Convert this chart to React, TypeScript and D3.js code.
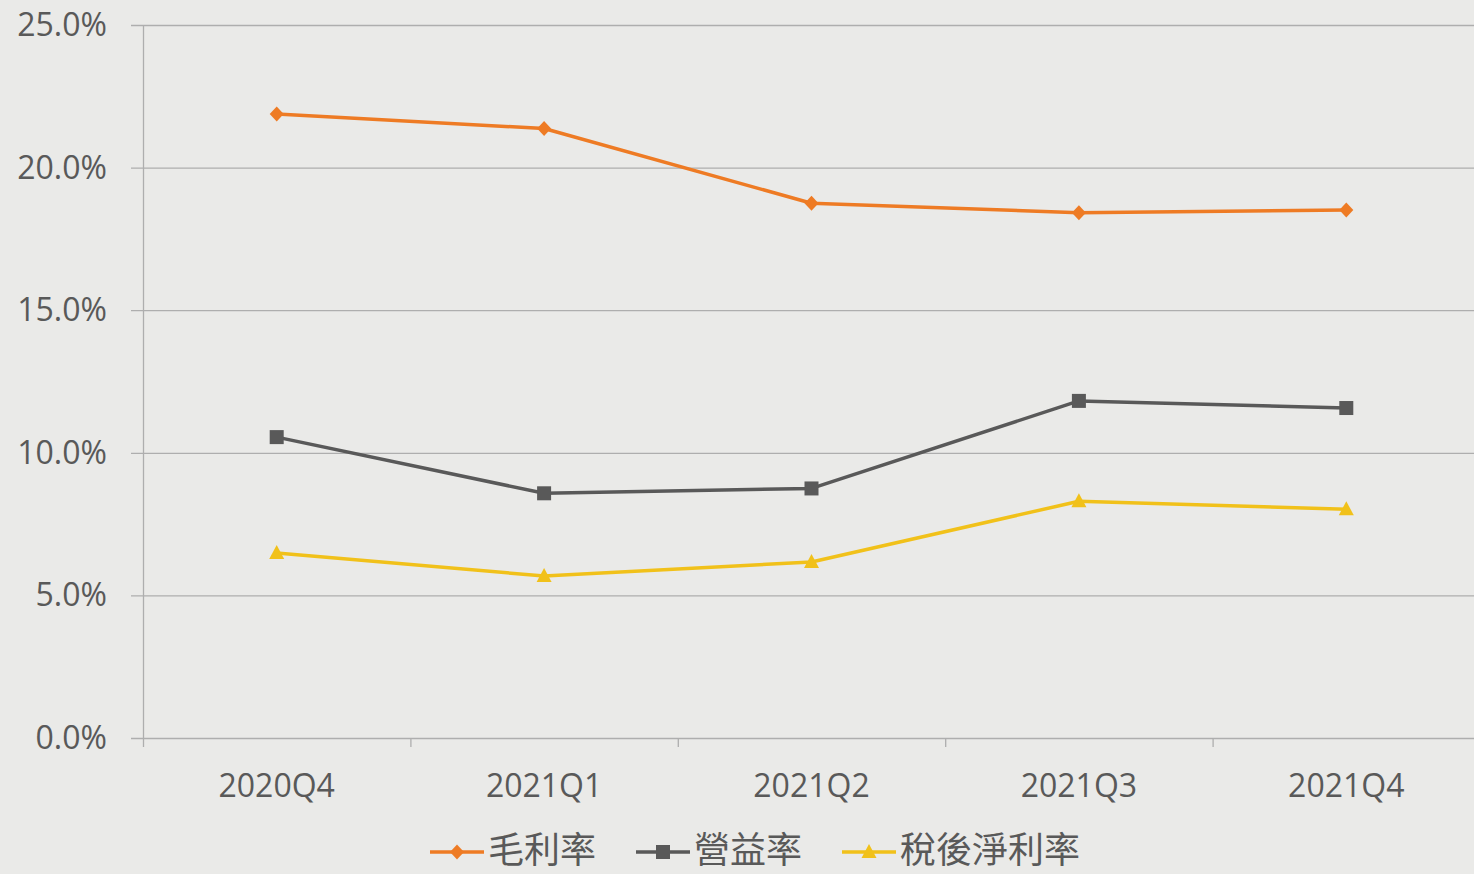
import React, { useEffect, useRef } from 'react';
import * as d3 from 'd3';

const categories = ['2020Q4', '2021Q1', '2021Q2', '2021Q3', '2021Q4'];
const grossMargin = [21.88, 21.37, 18.75, 18.42, 18.51];
const operatingMargin = [10.55, 8.58, 8.75, 11.82, 11.57];
const netMargin = [6.49, 5.68, 6.17, 8.30, 8.02];
const yTicks = [0, 5, 10, 15, 20, 25];
const seriesNames = ['毛利率', '營益率', '稅後淨利率'];
const seriesColors = ['#EE7B24', '#595959', '#F1C11A'];
const seriesShapes = ['diamond', 'square', 'triangle'];

const W = 1474;
const H = 874;

const App = () => {
  const ref = useRef<SVGSVGElement>(null);

  useEffect(() => {
    document.body.style.margin = '0';
    const svg = d3.select(ref.current);
    svg.selectAll('*').remove();

    const x = d3.scaleBand().domain(categories).range([143, 1480]);
    const y = d3.scaleLinear().domain([0, 25]).range([738, 25]);
    const font = '"Open Sans", sans-serif';

    svg.append('rect').attr('width', W).attr('height', H).attr('fill', '#EAEAE8');

    // gridlines + y labels
    const yg = svg.append('g');
    yg.selectAll('line')
      .data(yTicks)
      .enter().append('line')
      .attr('x1', 131)
      .attr('x2', W)
      .attr('y1', d => y(d) + 0.5)
      .attr('y2', d => y(d) + 0.5)
      .attr('stroke', '#AEAEAE')
      .attr('stroke-width', 1.3);
    yg.selectAll('text')
      .data(yTicks)
      .enter().append('text')
      .attr('x', 107)
      .attr('y', d => y(d) + 11)
      .attr('text-anchor', 'end')
      .attr('font-family', font)
      .attr('font-size', 32)
      .attr('fill', '#595959')
      .text(d => d.toFixed(1) + '%');

    // y axis line
    svg.append('line')
      .attr('x1', 143.5).attr('x2', 143.5)
      .attr('y1', y(25)).attr('y2', y(0) + 9)
      .attr('stroke', '#AEAEAE').attr('stroke-width', 1.3);

    // x ticks
    svg.append('g').selectAll('line')
      .data(categories.slice(1))
      .enter().append('line')
      .attr('x1', d => (x(d) as number) + 0.5)
      .attr('x2', d => (x(d) as number) + 0.5)
      .attr('y1', y(0))
      .attr('y2', y(0) + 9)
      .attr('stroke', '#AEAEAE')
      .attr('stroke-width', 1.3);

    svg.append('g').selectAll('text')
      .data(categories)
      .enter().append('text')
      .attr('x', d => (x(d) as number) + x.bandwidth() / 2)
      .attr('y', 797)
      .attr('text-anchor', 'middle')
      .attr('font-family', font)
      .attr('font-size', 32)
      .attr('fill', '#595959')
      .text(d => d);

    const allSeries = [grossMargin, operatingMargin, netMargin];
    const cx = (i: number) => (x(categories[i]) as number) + x.bandwidth() / 2;

    const marker = (g: any, shape: string, px: number, py: number, color: string) => {
      if (shape === 'diamond') {
        g.append('path')
          .attr('d', `M${px},${py - 7.5}L${px + 7},${py}L${px},${py + 7.5}L${px - 7},${py}Z`)
          .attr('fill', color);
      } else if (shape === 'square') {
        g.append('rect')
          .attr('x', px - 7).attr('y', py - 7)
          .attr('width', 14).attr('height', 14)
          .attr('fill', color);
      } else {
        g.append('path')
          .attr('d', `M${px},${py - 8}L${px + 7.5},${py + 6}L${px - 7.5},${py + 6}Z`)
          .attr('fill', color);
      }
    };

    allSeries.forEach((vals, si) => {
      const g = svg.append('g');
      const line = d3.line<number>()
        .x((_, i) => cx(i))
        .y(d => y(d));
      g.append('path')
        .datum(vals)
        .attr('d', line)
        .attr('fill', 'none')
        .attr('stroke', seriesColors[si])
        .attr('stroke-width', 3.5)
        .attr('stroke-linejoin', 'round');
      vals.forEach((v, i) => marker(g, seriesShapes[si], cx(i), y(v), seriesColors[si]));
    });

    // legend
    const legendX = [430, 636, 842];
    const ly = 852;
    seriesNames.forEach((name, si) => {
      const g = svg.append('g');
      const lx = legendX[si];
      g.append('line')
        .attr('x1', lx).attr('x2', lx + 54)
        .attr('y1', ly).attr('y2', ly)
        .attr('stroke', seriesColors[si]).attr('stroke-width', 3.5);
      marker(g, seriesShapes[si], lx + 27, ly, seriesColors[si]);
      g.append('text')
        .attr('x', lx + 58)
        .attr('y', ly + 11)
        .attr('font-family', '"Noto Sans CJK TC", sans-serif')
        .attr('font-size', 36)
        .attr('fill', '#595959')
        .text(name);
    });
  }, []);

  return <svg ref={ref} width={W} height={H} style={{ display: 'block' }} />;
};

export default App;
